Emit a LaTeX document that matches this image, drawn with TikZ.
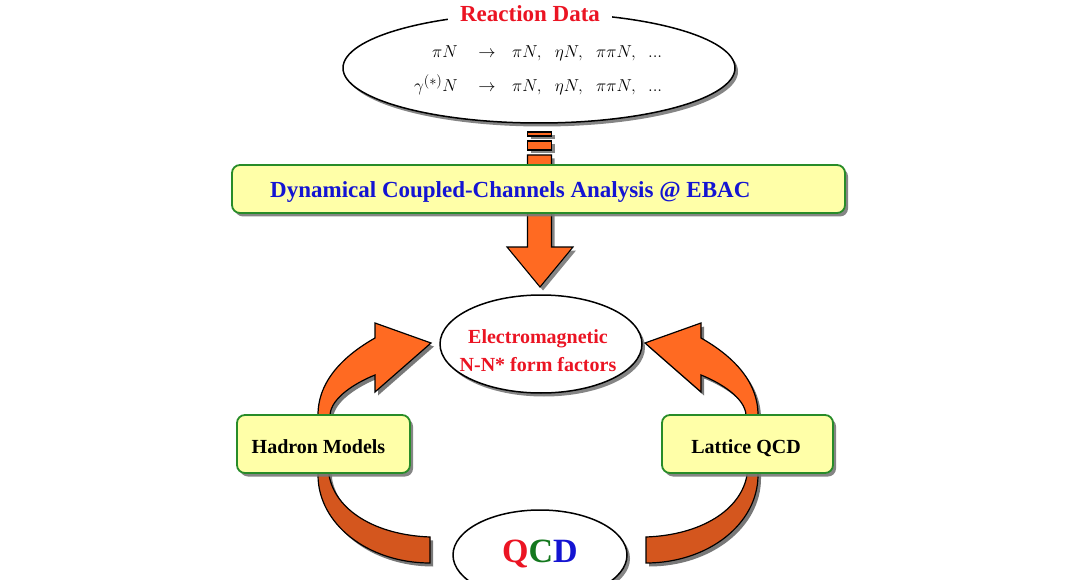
\documentclass[tikz,border=0pt]{standalone}
\usepackage{fontspec}
\setmainfont{Liberation Serif}
\usetikzlibrary{shapes.geometric,shadows}
\definecolor{orangeL}{RGB}{255,106,34}
\definecolor{orangeD}{RGB}{212,86,30}
\definecolor{boxfill}{RGB}{255,255,168}
\definecolor{boxline}{RGB}{40,140,40}
\definecolor{redT}{RGB}{235,20,35}
\definecolor{blueT}{RGB}{20,20,210}
\definecolor{greenT}{RGB}{20,120,30}
\definecolor{shadowc}{RGB}{120,120,120}
\def\leftband{(430,563) .. controls (368,563) and (318,524) .. (318,475) -- (318,415) .. controls (318,380) and (345,355) .. (375,338) -- (375,323) -- (431,343) -- (375,392) -- (375,375) .. controls (355,383) and (331,398) .. (330,415) -- (329,475) .. controls (335,510) and (375,535) .. (430,537) -- cycle}
\begin{document}
\begin{tikzpicture}[x=1pt,y=-1pt,
  shd/.style={drop shadow={shadow xshift=3pt,shadow yshift=-3.5pt,fill=shadowc,opacity=0.9}},
  ellbox/.style={ellipse,draw=black,line width=1.5pt,fill=white,inner sep=0pt,shd},
  gbox/.style={rectangle,rounded corners=8pt,draw=boxline,line width=1.8pt,fill=boxfill,inner sep=0pt,shd},
  arrowst/.style={fill=orangeL,draw=black,line width=1.1pt,line join=miter,shd},
  bandline/.style={line width=1.2pt,line join=miter},
  lab/.style={inner sep=0pt,font=\bfseries\fontsize{20}{24}\selectfont},
  big/.style={inner sep=0pt,font=\bfseries\fontsize{23}{27}\selectfont},
  mtext/.style={inner sep=0pt,font=\fontsize{19}{23}\selectfont}]
\useasboundingbox (0,0) rectangle (1068,580);

% top ellipse: reaction data
\node[ellbox,minimum width=392pt,minimum height=110pt] (rd) at (539,68) {};
\node[big,text=redT,fill=white,inner xsep=12pt,inner ysep=3pt,anchor=base] (title) at (530,22) {Reaction Data};
\node[mtext,anchor=base east] (l1a) at (458,58) {$\pi N$};
\node[mtext,anchor=base] (l1b) at (487,58) {$\to$};
\node[mtext,anchor=base west] (l1c) at (512,58) {$\pi N,\hspace{0.55em}\eta N,\hspace{0.55em}\pi\pi N,\hspace{0.5em}{.}{.}{.}$};
\node[mtext,anchor=base east] (l2a) at (458,92) {$\gamma^{(*)}N$};
\node[mtext,anchor=base] (l2b) at (487,92) {$\to$};
\node[mtext,anchor=base west] (l2c) at (512,92) {$\pi N,\hspace{0.55em}\eta N,\hspace{0.55em}\pi\pi N,\hspace{0.5em}{.}{.}{.}$};

% main striped arrow
\filldraw[arrowst] (527.5,132) rectangle (551.5,136);
\filldraw[arrowst] (527.5,141) rectangle (551.5,150);
\coordinate (tip) at (540,287);
\filldraw[arrowst] (527.5,155) -- (551.5,155) -- (551.5,247) -- (573,247) -- (tip) -- (507,247) -- (527.5,247) -- cycle;

% analysis box
\node[gbox,minimum width=613pt,minimum height=48pt] (dcc) at (538.5,189) {};
\node[big,text=blueT,anchor=base west] (dcct) at (270,198) {Dynamical Coupled-Channels Analysis @ EBAC};

% middle ellipse
\node[ellbox,minimum width=202pt,minimum height=98pt] (ff) at (541,344) {};
\node[lab,text=redT,anchor=base] (ff1) at (538,343) {Electromagnetic};
\node[lab,text=redT,anchor=base] (ff2) at (538,371) {N-N* form factors};

% curved arrows: shadows
\fill[shadowc,shift={(3,3.5)}] \leftband;
\begin{scope}[shift={(1079,3.5)},xscale=-1]
  \fill[shadowc] \leftband;
\end{scope}
% left curved arrow
\fill[orangeL] \leftband;
\begin{scope}
  \clip (0,444) rectangle (1068,600);
  \fill[orangeD] \leftband;
\end{scope}
\draw[bandline] \leftband;
% right curved arrow (mirror)
\begin{scope}[shift={(1076,0)},xscale=-1]
  \fill[orangeL] \leftband;
  \begin{scope}
    \clip (0,444) rectangle (1068,600);
    \fill[orangeD] \leftband;
  \end{scope}
  \draw[bandline] \leftband;
\end{scope}

% side boxes
\node[gbox,minimum width=173pt,minimum height=58pt] (hm) at (323.5,444) {};
\node[lab,anchor=base] (hmt) at (318.5,453) {Hadron Models};
\node[gbox,minimum width=171pt,minimum height=58pt] (lq) at (747.5,444) {};
\node[lab,anchor=base] (lqt) at (746,453) {Lattice QCD};

% QCD ellipse
\node[ellbox,minimum width=174pt,minimum height=90pt] (qcd) at (540,555) {};
\node[inner sep=0pt,anchor=base,font=\bfseries\fontsize{34}{40}\selectfont] (qcdt) at (540,562) {\textcolor{redT}{Q}\textcolor{greenT}{C}\textcolor{blueT}{D}};
\end{tikzpicture}
\end{document}
